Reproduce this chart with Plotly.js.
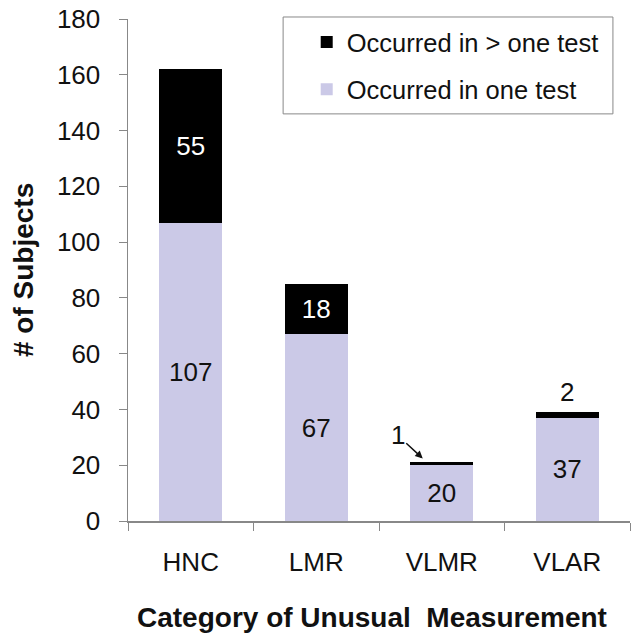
<!DOCTYPE html>
<html><head><meta charset="utf-8">
<script src="https://cdn.plot.ly/plotly-3.0.1.min.js"></script>
<style>html,body{margin:0;padding:0;background:#fff;}#chart{width:632px;height:638px;}</style>
</head><body><div id="chart"></div>
<script>
const categories = ["HNC", "LMR", "VLMR", "VLAR"];
const oneTest = [107, 67, 20, 37];
const moreThanOne = [55, 18, 1, 2];
const yTicks = [0, 20, 40, 60, 80, 100, 120, 140, 160, 180];

const FAM = "Liberation Sans, Arial, sans-serif";
const font = {family: FAM, size: 26, color: "#111"};

const traces = [
  {
    type: "bar", name: "Occurred in one test", x: categories, y: oneTest,
    marker: {color: "#CBC9E7", line: {width: 0}}, width: 0.5,
    text: oneTest.map(String), textposition: "inside", insidetextanchor: "middle",
    textfont: {family: FAM, size: 26, color: "#111"},
    legendgroup: "a", legendrank: 2, hoverinfo: "skip"
  },
  {
    type: "bar", name: "Occurred in > one test", x: categories, y: moreThanOne,
    marker: {color: "#000000", line: {width: 0}}, width: 0.5,
    text: moreThanOne.map(v => v >= 10 ? String(v) : ""), textposition: "inside", insidetextanchor: "middle",
    textfont: {family: FAM, size: 26, color: "#ffffff"},
    legendgroup: "b", legendrank: 1, hoverinfo: "skip"
  }
];

const annotations = [
  {x: categories[2], y: oneTest[2] + moreThanOne[2], text: String(moreThanOne[2]),
   showarrow: true, arrowhead: 2, arrowsize: 1, arrowwidth: 1.5, arrowcolor: "#111",
   ax: -25, ay: -23, xshift: -19, yshift: 4, font: font},
  {x: categories[3], y: oneTest[3] + moreThanOne[3], text: String(moreThanOne[3]),
   showarrow: false, yanchor: "bottom", yshift: 3, font: font},
  {xref: "paper", yref: "paper", x: 0.486, y: 0, yshift: -96, text: "<b>Category of Unusual  Measurement</b>",
   showarrow: false, font: {family: FAM, size: 28, color: "#111"}, yanchor: "middle", xanchor: "center"},
  {xref: "paper", yref: "paper", x: 0, xshift: -105, y: 0.5, text: "<b># of Subjects</b>", textangle: -90,
   showarrow: false, font: {family: FAM, size: 28, color: "#111"}, xanchor: "center", yanchor: "middle"}
];

const layout = {
  width: 632, height: 638,
  margin: {l: 128, r: 2, t: 19, b: 117},
  paper_bgcolor: "#fff", plot_bgcolor: "#fff",
  barmode: "stack", bargap: 0.5,
  font: font,
  showlegend: true,
  legend: {x: 0.356, y: 1.0, xanchor: "left", yanchor: "top", traceorder: "grouped",
           tracegroupgap: 11, font: {family: FAM, size: 25.5, color: "#111"},
           bgcolor: "rgba(0,0,0,0)", borderwidth: 0},
  xaxis: {showgrid: false, zeroline: false, showline: true, linecolor: "#888", linewidth: 1.5,
          ticks: "outside", tickson: "boundaries", ticklen: 8, tickcolor: "#888", tickwidth: 1,
          ticklabelstandoff: 17, tickfont: font, range: [-0.5, 3.5], fixedrange: true},
  yaxis: {range: [0, 180], tickvals: yTicks, showgrid: false, zeroline: false, showline: true,
          linecolor: "#888", linewidth: 1.5, ticks: "outside", ticklen: 8, tickcolor: "#888", tickwidth: 1,
          ticklabelstandoff: 13, tickfont: font, fixedrange: true},
  shapes: [{type: "rect", xref: "paper", yref: "paper", x0: 0.309, x1: 0.966, y0: 0.811, y1: 1.004,
            line: {color: "#888", width: 1}, fillcolor: "rgba(0,0,0,0)"}],
  annotations: annotations
};

Plotly.newPlot("chart", traces, layout, {staticPlot: true, displayModeBar: false});
</script>
</body></html>
